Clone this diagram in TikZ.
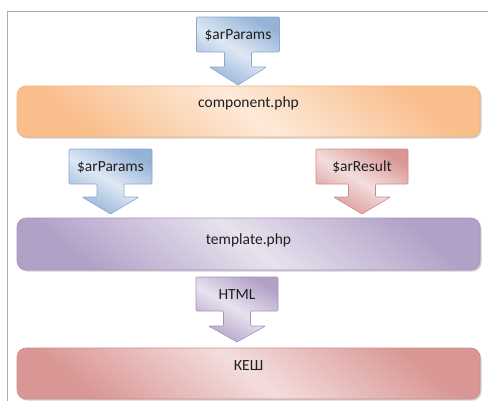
\documentclass[tikz,border=0pt]{standalone}
\usepackage{fontspec}
\setmainfont{Carlito}
\definecolor{bluedk}{RGB}{149,179,215}
\definecolor{bluelt}{RGB}{222,232,244}
\definecolor{blueln}{RGB}{140,168,204}
\definecolor{orangedk}{RGB}{249,190,140}
\definecolor{orangelt}{RGB}{253,234,218}
\definecolor{orangeln}{RGB}{244,177,125}
\definecolor{purpledk}{RGB}{178,161,199}
\definecolor{purplelt}{RGB}{231,226,238}
\definecolor{purpleln}{RGB}{165,148,188}
\definecolor{reddk}{RGB}{217,150,148}
\definecolor{redlt}{RGB}{243,222,221}
\definecolor{redln}{RGB}{205,140,138}
\begin{document}
\begin{tikzpicture}[x=1pt,y=-1pt,
  lbl/.style={inner sep=0pt,text=black!88,font=\fontsize{15.5}{18}\selectfont},
  orangebox/.style={draw=orangeln, line width=0.6pt, rounded corners=9pt,
     top color=orangedk, bottom color=orangedk, middle color=orangelt, shading angle=-40},
  purplebox/.style={draw=purpleln, line width=0.6pt, rounded corners=9pt,
     top color=purpledk, bottom color=purpledk, middle color=purplelt, shading angle=-40},
  redbox/.style={draw=redln, line width=0.6pt, rounded corners=9pt,
     top color=reddk, bottom color=reddk, middle color=redlt, shading angle=-40},
  bluecall/.style={draw=blueln, line width=0.6pt, rounded corners=1pt,
     top color=bluedk, bottom color=bluedk, middle color=bluelt, shading angle=-30},
  redcall/.style={draw=redln, line width=0.6pt, rounded corners=1pt,
     top color=reddk, bottom color=reddk, middle color=redlt, shading angle=-30},
  purplecall/.style={draw=purpleln, line width=0.6pt, rounded corners=1pt,
     top color=purpledk, bottom color=purpledk, middle color=purplelt, shading angle=-30},
  shadow/.style={fill=black!18, rounded corners=9pt}
]
\useasboundingbox (0,0) rectangle (488,400);
% frame
\draw[black!32, line width=1.5pt] (7.5,401) -- (7.5,11.5) -- (489,11.5);

% callout macro: #1 style, #2 cx, #3 half box width, #4 top, #5 bottom, #6 head start, #7 tip
\newcommand\mycallout[7]{%
  \path[#1] ({#2-#3},#4) -- ({#2+#3},#4) -- ({#2+#3},#5) -- ({#2+13.5},#5)
    -- ({#2+13.5},#6) -- ({#2+28.5},#6) -- (#2,#7) -- ({#2-28.5},#6)
    -- ({#2-13.5},#6) -- ({#2-13.5},#5) -- ({#2-#3},#5) -- cycle;}

% big boxes (shadows)
\path[shadow] (18,87.5) rectangle (481.5,138.5);
\path[shadow] (18,219.5) rectangle (481.5,271.5);
\path[shadow] (18,349.5) rectangle (481.5,400.5);
\path[orangebox] (17,86) rectangle (480,137);
\path[purplebox] (17,218) rectangle (480,270);
\path[redbox] (17,348) rectangle (480,399);

% callouts
\mycallout{bluecall}{238}{41.5}{17}{52}{67}{85}
\mycallout{bluecall}{110.5}{41.5}{149}{184}{197}{214}
\mycallout{redcall}{362}{46}{149}{184}{197}{214}
\mycallout{purplecall}{237}{41}{277}{311}{326}{342}

% texts
\node[lbl] (comp) at (248.5,103) {component.php};
\node[lbl] (tmpl) at (248.5,240) {template.php};
\node[lbl] (cache) at (248.5,366) {КЕШ};
\node[lbl] (p1) at (238,35) {\$arParams};
\node[lbl] (p2) at (110.5,167) {\$arParams};
\node[lbl] (res) at (362,167) {\$arResult};
\node[lbl] (html) at (237,294.5) {HTML};
\end{tikzpicture}
\end{document}
